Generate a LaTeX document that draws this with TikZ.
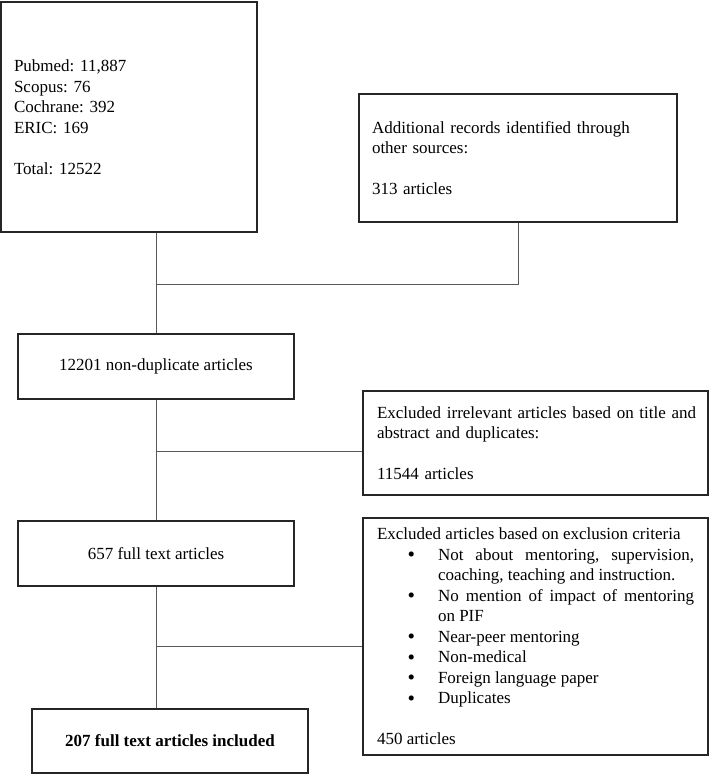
\documentclass[tikz,border=0pt]{standalone}
\usepackage{fontspec}
\setmainfont{Liberation Serif}
\usetikzlibrary{positioning,calc}
\setlength{\parindent}{0pt}
\frenchspacing
\newcommand{\critdot}{\raisebox{-1.5pt}[0pt][0pt]{\scalebox{1.25}{\textbullet}}}
\newenvironment{critlist}{\begin{list}{\critdot}{%
    \setlength{\leftmargin}{61pt}\setlength{\labelsep}{23pt}%
    \setlength{\labelwidth}{38pt}\setlength{\topsep}{0pt}%
    \setlength{\partopsep}{0pt}\setlength{\itemsep}{0pt}%
    \setlength{\parsep}{0pt}}}{\end{list}}
\tikzset{
    %Define standard box and connector
    kast/.style={
      rectangle,
      draw=black!85, line width=1.6pt,
      inner xsep=13pt, inner ysep=0pt,
      font=\fontsize{17}{20.5}\selectfont},
    widekast/.style={
      kast,
      inner xsep=14pt,
      text width=317pt},
    link/.style={
      draw=black!65, line width=1pt},
}
\begin{document}
\begin{tikzpicture}[x=1pt, y=-1pt]
    \useasboundingbox (0,0) rectangle (712,774);
    \node (src) [kast, text width=230pt, align=left, minimum height=230] at (129,117)
          {Pubmed: 11,887\\ Scopus: 76\\ Cochrane: 392\\ ERIC: 169\\[20.5pt] Total: 12522};
    \node (extra) [kast, text width=292pt, align=left, minimum height=128] at (518,158)
          {Additional records identified through\\ other sources:\\[20.5pt] 313 articles};
    \node (dup) [kast, minimum width=276, minimum height=65] at (156,366.5)
          {12201 non-duplicate articles};
    \node (excl) [widekast, align=left, minimum height=104] at (535.5,443)
          {\mbox{Excluded irrelevant articles based on title and}\\ abstract and duplicates:\\[20.5pt] 11544 articles};
    \node (full) [kast, minimum width=276, minimum height=65] at (156,553.5)
          {657 full text articles};
    \node (crit) [widekast, align=justify, minimum height=237] at (535.5,636.5)
          {Excluded articles based on exclusion criteria
           \begin{critlist}
             \item Not about mentoring, supervision, coaching, teaching and instruction.
             \item No mention of impact of mentoring\linebreak on PIF
             \item Near-peer mentoring
             \item Non-medical
             \item Foreign language paper
             \item Duplicates
           \end{critlist}
           \vspace{20.5pt}
           450 articles};
    \node (incl) [kast, minimum width=276, minimum height=64] at (170,741)
          {\bfseries 207 full text articles included};
    % junctions on the main line
    \coordinate (m1) at (156,284);
    \coordinate (m2) at (156,451);
    \coordinate (m3) at (156,646);
    \draw [link] (src.south -| dup.north) -- (dup.north);
    \draw [link] (extra.south) |- (m1);
    \draw [link] (dup.south) -- (full.north);
    \draw [link] (m2) -- (m2 -| excl.west);
    \draw [link] (full.south) -- (full.south |- incl.north);
    \draw [link] (m3) -- (m3 -| crit.west);
\end{tikzpicture}
\end{document}
